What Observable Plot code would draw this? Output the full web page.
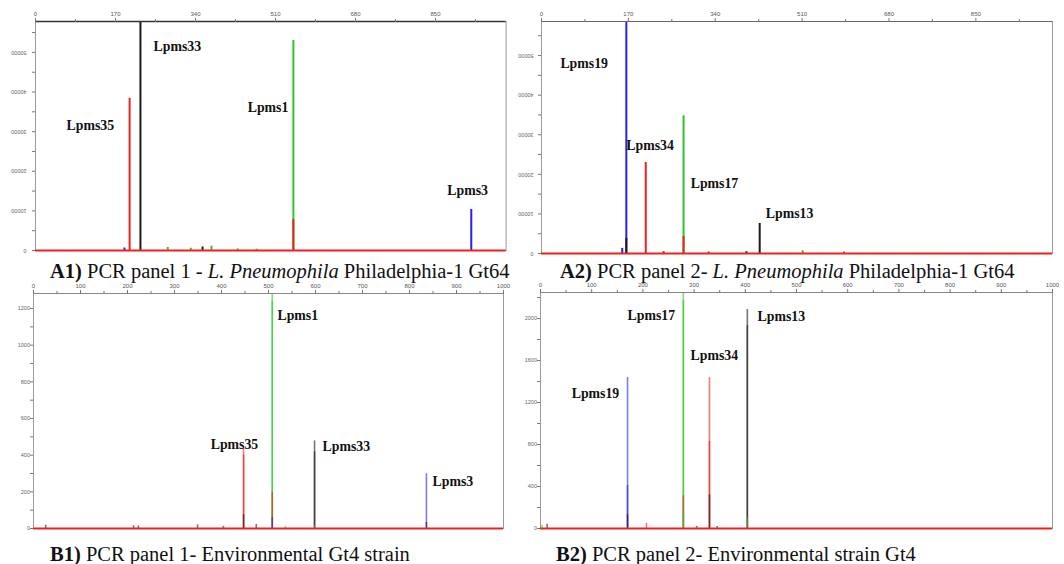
<!DOCTYPE html>
<html>
<head>
<meta charset="utf-8">
<script src="https://cdn.jsdelivr.net/npm/d3@7"></script>
<script src="https://cdn.jsdelivr.net/npm/@observablehq/plot@0.6"></script>
<style>
  html, body { margin: 0; padding: 0; background: #fff; }
  #page { position: relative; width: 1064px; height: 564px; overflow: hidden; background: #fff; }
  .cap { position: absolute; font-family: "Liberation Serif", "Times New Roman", serif; font-size: 20.5px; color: #111; white-space: nowrap; line-height: 1; }
</style>
</head>
<body>
<div id="page"></div>
<script>
// ---------- data ----------
const dyeColors = { red: "#f02020", green: "#2ec42e", blue: "#2424e6", black: "#1a1a1a" };

const xTicksA = [0, 170, 340, 510, 680, 850];
const xMinorA = [85, 255, 425, 595, 765, 935];
const xTicksB = [0, 100, 200, 300, 400, 500, 600, 700, 800, 900, 1000];
const xMinorB = [50, 150, 250, 350, 450, 550, 650, 750, 850, 950];
const yTicksA = [0, 10000, 20000, 30000, 40000, 50000];
const yMinorA = [5000, 15000, 25000, 35000, 45000, 55000];
const yTicksB1 = [0, 200, 400, 600, 800, 1000, 1200];
const yMinorB1 = [100, 300, 500, 700, 900, 1100];
const yTicksB2 = [0, 400, 800, 1200, 1600, 2000];
const yMinorB2 = [200, 600, 1000, 1400, 1800, 2200];

// peaks: size in bp, peak height (RFU), dye
const peaksA1 = [
  {bp: 200, v: 38400, dye: "red"},
  {bp: 223, v: 70000, dye: "black"},
  {bp: 548, v: 53000, dye: "green"},
  {bp: 548, v: 7800, dye: "red"},
  {bp: 926, v: 10350, dye: "blue"},
  {bp: 189, v: 600, dye: "blue"},
  {bp: 281, v: 760, dye: "green"},
  {bp: 330, v: 550, dye: "green"},
  {bp: 355, v: 900, dye: "black"},
  {bp: 374, v: 1100, dye: "green"},
  {bp: 430, v: 350, dye: "green"},
  {bp: 470, v: 300, dye: "green"}
];
const peaksA2 = [
  {bp: 166, v: 70000, dye: "blue"},
  {bp: 166, v: 3800, dye: "black"},
  {bp: 158, v: 1300, dye: "blue"},
  {bp: 204, v: 23000, dye: "red"},
  {bp: 278, v: 34800, dye: "green"},
  {bp: 278, v: 4300, dye: "red"},
  {bp: 427, v: 7600, dye: "black"},
  {bp: 239, v: 500, dye: "red"},
  {bp: 327, v: 400, dye: "red"},
  {bp: 401, v: 450, dye: "black"},
  {bp: 511, v: 700, dye: "green"},
  {bp: 592, v: 350, dye: "red"}
];
const peaksB1 = [
  {bp: 447, v: 440, dye: "red"},
  {bp: 447, v: 400, dye: "red"},
  {bp: 447, v: 76, dye: "black"},
  {bp: 508, v: 1400, dye: "green"},
  {bp: 508, v: 1239, dye: "green"},
  {bp: 508, v: 196, dye: "red"},
  {bp: 508, v: 60, dye: "blue"},
  {bp: 598, v: 478, dye: "black"},
  {bp: 598, v: 418, dye: "black"},
  {bp: 598, v: 20, dye: "green"},
  {bp: 836, v: 299, dye: "blue"},
  {bp: 836, v: 33, dye: "black"},
  {bp: 26, v: 18, dye: "black"},
  {bp: 213, v: 15, dye: "black"},
  {bp: 223, v: 14, dye: "black"},
  {bp: 349, v: 20, dye: "black"},
  {bp: 404, v: 12, dye: "black"},
  {bp: 474, v: 22, dye: "black"},
  {bp: 536, v: 12, dye: "green"}
];
const peaksB2 = [
  {bp: 170, v: 1438, dye: "blue"},
  {bp: 170, v: 410, dye: "blue"},
  {bp: 170, v: 130, dye: "black"},
  {bp: 207, v: 50, dye: "red"},
  {bp: 279, v: 2400, dye: "green"},
  {bp: 279, v: 2171, dye: "green"},
  {bp: 279, v: 311, dye: "red"},
  {bp: 279, v: 140, dye: "green"},
  {bp: 330, v: 1438, dye: "red"},
  {bp: 330, v: 830, dye: "red"},
  {bp: 330, v: 320, dye: "black"},
  {bp: 404, v: 2086, dye: "black"},
  {bp: 404, v: 1933, dye: "black"},
  {bp: 404, v: 100, dye: "green"},
  {bp: 3, v: 30, dye: "green"},
  {bp: 13, v: 40, dye: "black"},
  {bp: 305, v: 20, dye: "black"},
  {bp: 345, v: 18, dye: "black"}
];

// marker labels anchored in data space (bp, RFU)
const labelsA1 = [
  {name: "Lpms35", bp: 66, v: 31600},
  {name: "Lpms33", bp: 251, v: 51500},
  {name: "Lpms1", bp: 451, v: 36100},
  {name: "Lpms3", bp: 875, v: 15200}
];
const labelsA2 = [
  {name: "Lpms19", bp: 37, v: 48000},
  {name: "Lpms34", bp: 166, v: 27300},
  {name: "Lpms17", bp: 292, v: 17700},
  {name: "Lpms13", bp: 439, v: 10100}
];
const labelsB1 = [
  {name: "Lpms1", bp: 519, v: 1163},
  {name: "Lpms35", bp: 377, v: 457},
  {name: "Lpms33", bp: 615, v: 446},
  {name: "Lpms3", bp: 849, v: 255}
];
const labelsB2 = [
  {name: "Lpms17", bp: 170, v: 2029},
  {name: "Lpms13", bp: 424, v: 2019},
  {name: "Lpms34", bp: 293, v: 1648},
  {name: "Lpms19", bp: 61, v: 1286}
];

// ---------- drawing ----------
const page = document.getElementById("page");

function panel(o) {
  const peaks = o.peaks.slice().sort((a, b) => b.v - a.v);
  const yMax = o.yMax;
  const yAxisOpts = {anchor: "left", ticks: o.yTicks, tickSize: 3, tickPadding: o.yPad,
    fontSize: 5.5, fill: "#666", stroke: "#777", tickFormat: d => String(d),
    fontFamily: "Liberation Sans", label: null};
  if (o.rotateY) Object.assign(yAxisOpts, {tickRotate: 180, textAnchor: "start", lineAnchor: "middle"});
  const marks = [
    Plot.frame({stroke: "#9a9a9a", strokeWidth: 1}),
    Plot.ruleX(peaks, {
      x: "bp", y1: 0, y2: "v",
      stroke: d => dyeColors[d.dye],
      strokeWidth: o.peakWidth,
      strokeOpacity: o.peakOpacity,
      clip: true
    }),
    Plot.ruleY([0], {stroke: dyeColors.red, strokeWidth: 2.2}),
    Plot.ruleY([yMax], {stroke: o.topStroke, strokeWidth: o.topWidth}),
    Plot.axisX({anchor: "top", ticks: o.xTicks, tickSize: 4, tickPadding: 1.5,
      fontSize: 6, fill: "#555", stroke: "#777", tickFormat: d => String(d),
      fontFamily: "Liberation Sans", label: null}),
    Plot.axisX({anchor: "top", ticks: o.xMinor, tickSize: 3, text: null, stroke: "#777", label: null}),
    Plot.axisY({anchor: "left", ticks: o.yMinor, tickSize: 3, text: null, stroke: "#777", label: null}),
    Plot.axisY(yAxisOpts),
    Plot.text(o.labels, {
      x: "bp", y: "v", text: "name", textAnchor: "start",
      fontFamily: "Liberation Serif", fontWeight: "bold", fontSize: 13.8, fill: "#111"
    })
  ];
  const svg = Plot.plot({
    width: o.width, height: o.height,
    marginLeft: o.ml, marginRight: o.mr, marginTop: o.mt, marginBottom: o.mb,
    x: {domain: [0, 1000], axis: null, label: null},
    y: {domain: [0, yMax], axis: null, label: null},
    style: {position: "absolute", left: o.left + "px", top: o.top + "px",
      background: "transparent", overflow: "visible"},
    marks
  });
  page.appendChild(svg);
}

function caption(html, left, top) {
  const d = document.createElement("div");
  d.className = "cap";
  d.style.left = left + "px";
  d.style.top = top + "px";
  d.innerHTML = html;
  page.appendChild(d);
}

panel({left: 0, top: 0, width: 520, height: 258, ml: 35, mr: 14.4, mt: 21, mb: 8,
  yMax: 57800, peaks: peaksA1, labels: labelsA1, xTicks: xTicksA, xMinor: xMinorA,
  yTicks: yTicksA, yMinor: yMinorA, rotateY: true, yPad: 6,
  peakWidth: 2, peakOpacity: 1, topStroke: "#333", topWidth: 1.6});

panel({left: 512, top: 0, width: 552, height: 262, ml: 29, mr: 12, mt: 21, mb: 9,
  yMax: 58600, peaks: peaksA2, labels: labelsA2, xTicks: xTicksA, xMinor: xMinorA,
  yTicks: yTicksA, yMinor: yMinorA, rotateY: true, yPad: 5,
  peakWidth: 2, peakOpacity: 1, topStroke: "#666", topWidth: 1.2});

panel({left: 0, top: 280, width: 520, height: 254, ml: 33, mr: 17, mt: 13, mb: 6,
  yMax: 1282, peaks: peaksB1, labels: labelsB1, xTicks: xTicksB, xMinor: xMinorB,
  yTicks: yTicksB1, yMinor: yMinorB1, rotateY: false, yPad: 0.5,
  peakWidth: 1.6, peakOpacity: 0.6, topStroke: "#888", topWidth: 1.2});

panel({left: 512, top: 280, width: 552, height: 254, ml: 28, mr: 12, mt: 12, mb: 6,
  yMax: 2248, peaks: peaksB2, labels: labelsB2, xTicks: xTicksB, xMinor: xMinorB,
  yTicks: yTicksB2, yMinor: yMinorB2, rotateY: false, yPad: 0.5,
  peakWidth: 1.6, peakOpacity: 0.6, topStroke: "#888", topWidth: 1.2});

caption("<b>A1)</b> PCR panel 1 - <i>L. Pneumophila</i> Philadelphia-1 Gt64", 50, 261);
caption("<b>A2)</b> PCR panel 2- <i>L. Pneumophila</i> Philadelphia-1 Gt64", 560, 261);
caption("<b>B1)</b> PCR panel 1- Environmental Gt4 strain", 50, 544);
caption("<b>B2)</b> PCR panel 2- Environmental strain Gt4", 556, 544);
</script>
</body>
</html>
